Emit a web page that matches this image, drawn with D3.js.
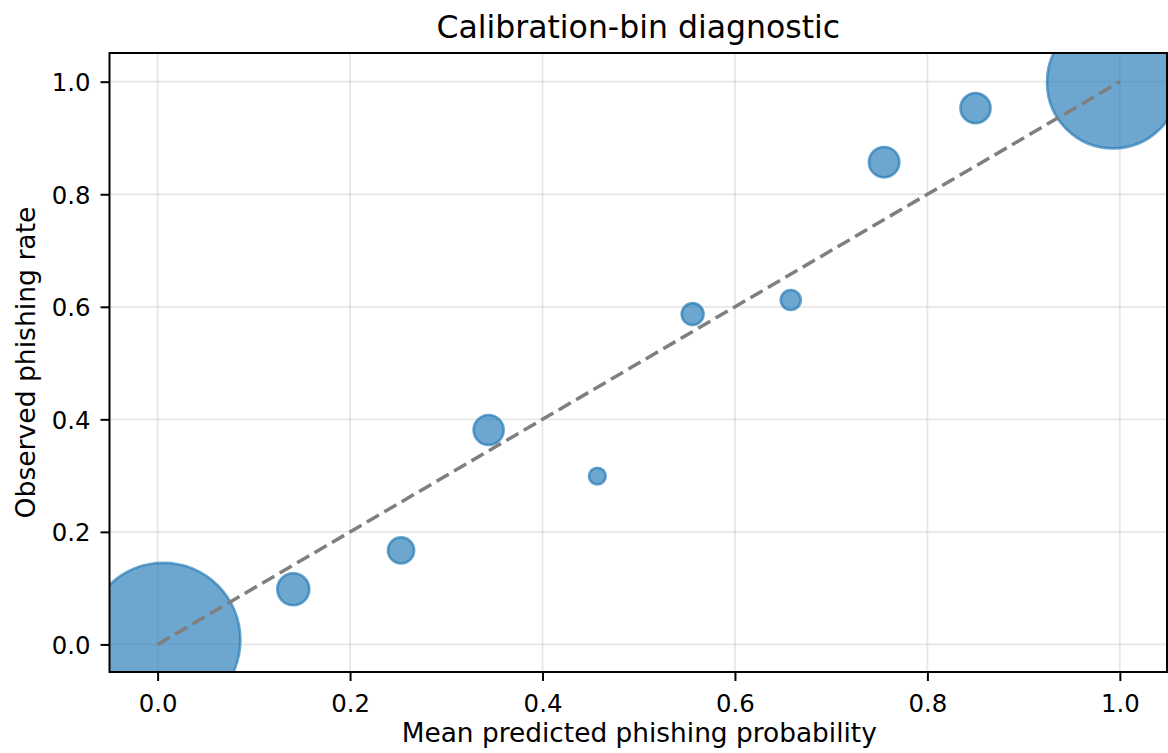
<!DOCTYPE html>
<html>
<head>
<meta charset="utf-8">
<script src="https://cdn.jsdelivr.net/npm/d3@7"></script>
<style>
  body { margin: 0; background: #fff; }
  svg text { font-family: "DejaVu Sans", sans-serif; fill: #000; }
</style>
</head>
<body>
<svg id="chart" width="1168" height="753"></svg>
<script>
// calibration bins
let meanPred = [0.006, 0.141, 0.253, 0.344, 0.457, 0.556, 0.658, 0.755, 0.850, 0.993];
let observed = [0.008, 0.098, 0.167, 0.381, 0.299, 0.587, 0.612, 0.857, 0.953, 0.999];
let binCount = [5900, 255, 170, 225, 70, 120, 100, 230, 225, 4350];
let tickVals = [0.0, 0.2, 0.4, 0.6, 0.8, 1.0];

var margin = {left: 109.5, top: 53, right: 1167, bottom: 672};

var svg = d3.select('#chart');

var x = d3.scaleLinear().domain([-0.05, 1.049]).range([margin.left, margin.right]);
var y = d3.scaleLinear().domain([-0.049, 1.051]).range([margin.bottom, margin.top]);
var r = d3.scaleSqrt().domain([0, 5900]).range([0, 77]);

svg.append('clipPath').attr('id', 'plotclip')
  .append('rect')
  .attr('x', margin.left).attr('y', margin.top)
  .attr('width', margin.right - margin.left)
  .attr('height', margin.bottom - margin.top);

// grid
var grid = svg.append('g').attr('stroke', '#b0b0b0').attr('stroke-opacity', 0.3).attr('stroke-width', 1.8);
tickVals.forEach(function(t) {
  grid.append('line').attr('x1', x(t)).attr('x2', x(t)).attr('y1', margin.top).attr('y2', margin.bottom);
  grid.append('line').attr('y1', y(t)).attr('y2', y(t)).attr('x1', margin.left).attr('x2', margin.right);
});

var plot = svg.append('g').attr('clip-path', 'url(#plotclip)');

var bins = meanPred.map(function(d, i) { return {x: d, y: observed[i], n: binCount[i]}; });

plot.selectAll('.bin')
  .data(bins)
  .enter()
  .append('circle')
  .attr('class', 'bin')
  .attr('cx', function(d) { return x(d.x) })
  .attr('cy', function(d) { return y(d.y) })
  .attr('r', function(d) { return r(d.n) })
  .attr('fill', '#1f77b4')
  .attr('fill-opacity', 0.65)
  .attr('stroke', '#1f77b4')
  .attr('stroke-opacity', 0.65)
  .attr('stroke-width', 2.6);

// perfect calibration line
plot.append('line')
  .attr('x1', x(0)).attr('y1', y(0))
  .attr('x2', x(1)).attr('y2', y(1))
  .attr('stroke', '#7f7f7f')
  .attr('stroke-width', 3.5)
  .attr('stroke-dasharray', '14,6.2');

// axes
var xAxis = svg.append('g')
  .attr('transform', 'translate(0,' + margin.bottom + ')')
  .call(d3.axisBottom(x).tickValues(tickVals).tickFormat(d3.format('.1f')).tickSize(9).tickSizeOuter(0));
var yAxis = svg.append('g')
  .attr('transform', 'translate(' + margin.left + ',0)')
  .call(d3.axisLeft(y).tickValues(tickVals).tickFormat(d3.format('.1f')).tickSize(9).tickSizeOuter(0));

[xAxis, yAxis].forEach(function(a) {
  a.select('.domain').remove();
  a.selectAll('.tick line').attr('stroke', '#000').attr('stroke-width', 2);
  a.selectAll('.tick text').attr('font-size', 24.4).attr('fill', '#000');
});
xAxis.selectAll('.tick text').attr('y', 40).attr('dy', 0);
yAxis.selectAll('.tick text').attr('x', -19).attr('dy', '0.36em');

// frame
svg.append('rect')
  .attr('x', margin.left).attr('y', margin.top)
  .attr('width', margin.right - margin.left)
  .attr('height', margin.bottom - margin.top)
  .attr('fill', 'none')
  .attr('stroke', '#000')
  .attr('stroke-width', 2);

// titles
svg.append('text')
  .attr('x', (margin.left + margin.right) / 2).attr('y', 38)
  .attr('text-anchor', 'middle')
  .attr('font-size', 31.5)
  .text('Calibration-bin diagnostic');

svg.append('text')
  .attr('x', (margin.left + margin.right) / 2 + 1).attr('y', 742)
  .attr('text-anchor', 'middle')
  .attr('font-size', 26.4)
  .text('Mean predicted phishing probability');

svg.append('text')
  .attr('transform', 'translate(35,' + ((margin.top + margin.bottom) / 2) + ') rotate(-90)')
  .attr('text-anchor', 'middle')
  .attr('font-size', 26.6)
  .text('Observed phishing rate');
</script>
</body>
</html>
